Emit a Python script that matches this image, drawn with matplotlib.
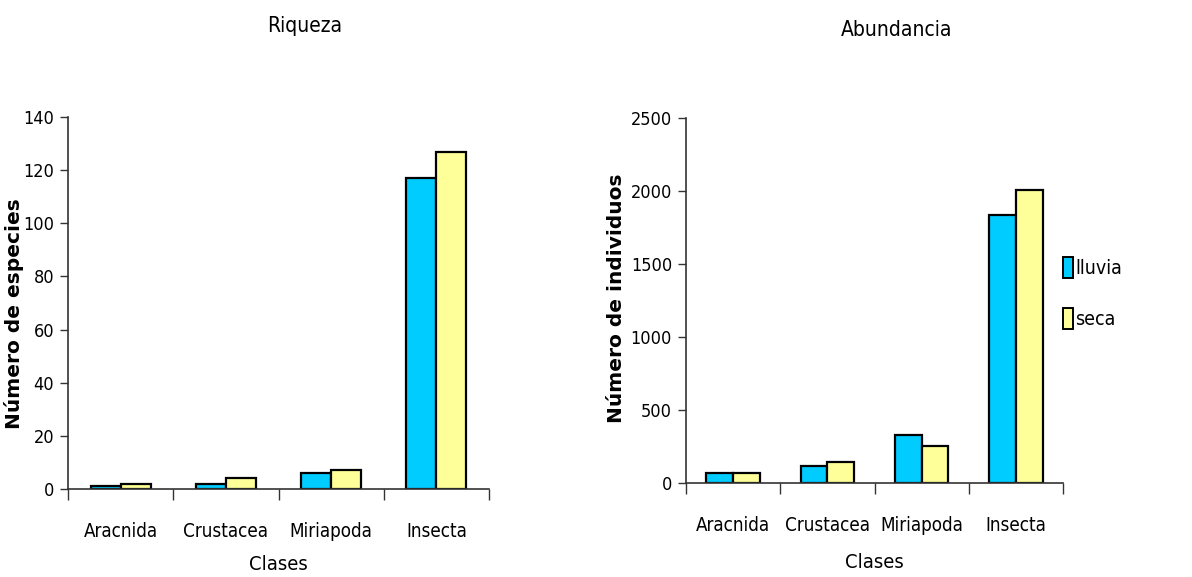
import matplotlib
matplotlib.use('Agg')
import matplotlib.pyplot as plt
from matplotlib.patches import Patch
import numpy as np

clases = ['Aracnida', 'Crustacea', 'Miriapoda', 'Insecta']
series = ['lluvia', 'seca']

# riqueza (numero de especies)
riqueza_lluvia = [1, 2, 6, 117]
riqueza_seca = [2, 4, 7, 127]

# abundancia (numero de individuos)
abund_lluvia = [66, 118, 329, 1833]
abund_seca = [66, 146, 251, 2009]

colores = ['#00CCFF', '#FFFF99']
ancho = 0.285

# fuente estrecha para ejes y titulos
narrow = dict(family='DejaVu Sans', stretch='condensed')


def barras(ax, lluvia, seca, ymax, paso, pad_clases):
    x = np.arange(len(clases))
    ax.bar(x - ancho / 2, lluvia, ancho, color=colores[0], edgecolor='black', linewidth=1.6)
    ax.bar(x + ancho / 2, seca, ancho, color=colores[1], edgecolor='black', linewidth=1.6)
    ax.set_xlim(-0.5, len(clases) - 0.5)
    ax.set_ylim(0, ymax)
    ticks = np.arange(0, ymax + 1, paso)
    ax.set_yticks(ticks)
    ax.set_yticklabels([str(v) for v in ticks], fontsize=13, **narrow)
    # ticks en los limites de cada categoria, etiquetas en el centro
    ax.set_xticks(np.arange(-0.5, len(clases), 1.0))
    ax.set_xticklabels([])
    ax.set_xticks(x, minor=True)
    ax.set_xticklabels(clases, minor=True, fontsize=13.5, **narrow)
    ax.tick_params(axis='x', which='major', length=8, width=1, color='#333333', direction='out')
    ax.tick_params(axis='x', which='minor', length=0, pad=24)
    ax.tick_params(axis='y', length=6, width=1, color='#333333', direction='out', pad=4)
    for s in ['top', 'right']:
        ax.spines[s].set_visible(False)
    for s in ['left', 'bottom']:
        ax.spines[s].set_color('#333333')
        ax.spines[s].set_linewidth(1.2)
    ax.set_xlabel('Clases', fontsize=14.5, labelpad=pad_clases, **narrow)


fig = plt.figure(figsize=(11.92, 5.77), dpi=100)

ax1 = fig.add_axes([68 / 1192, 88 / 577, 421 / 1192, 372 / 577])
barras(ax1, riqueza_lluvia, riqueza_seca, 140, 20, 10)

ax2 = fig.add_axes([686 / 1192, 94 / 577, 377 / 1192, 365 / 577])
barras(ax2, abund_lluvia, abund_seca, 2500, 500, 13)

fig.text(14 / 1192, 1 - 314 / 577, 'Número de especies', rotation=90, ha='center', va='center',
         fontsize=14.5, fontweight='bold', family='DejaVu Sans')
fig.text(616 / 1192, 1 - 298 / 577, 'Número de individuos', rotation=90, ha='center', va='center',
         fontsize=14.5, fontweight='bold', family='DejaVu Sans')

fig.text(305 / 1192, 1 - 26 / 577, 'Riqueza', ha='center', va='center', fontsize=15, **narrow)
fig.text(897 / 1192, 1 - 30 / 577, 'Abundancia', ha='center', va='center', fontsize=15, **narrow)

handles = [Patch(facecolor=c, edgecolor='black', linewidth=1.4) for c in colores]
fig.legend(handles, series, loc='center left', bbox_to_anchor=(1045 / 1192, 1 - 293 / 577),
           frameon=False, prop=dict(size=14, **narrow),
           handlelength=0.55, handleheight=1.3, handletextpad=0.1, labelspacing=1.5)

fig.savefig('out.png', dpi=100)
